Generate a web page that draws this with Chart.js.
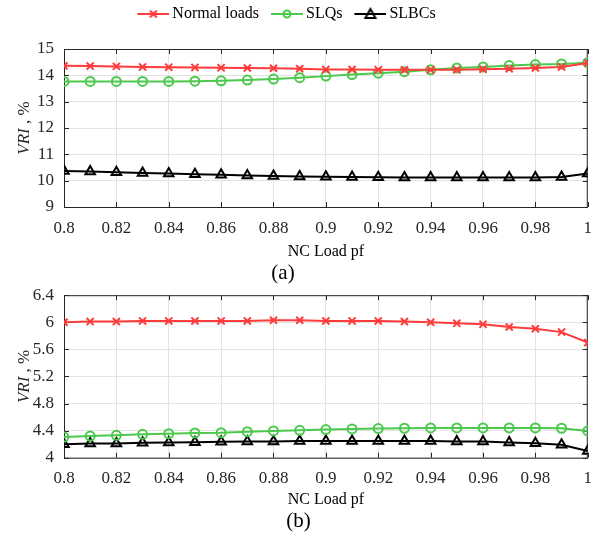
<!DOCTYPE html>
<html>
<head>
<meta charset="utf-8">
<script src="https://cdn.jsdelivr.net/npm/chart.js@4.4.0/dist/chart.umd.min.js"></script>
<style>
body { margin: 0; background: #fff; }
#wrap { position: relative; width: 603px; height: 544px; }
canvas { position: absolute; left: 0; }
</style>
</head>
<body>
<div id="wrap">
  <canvas id="chartA" width="603" height="290" style="top:0"></canvas>
  <canvas id="chartB" width="603" height="269" style="top:275px"></canvas>
</div>
<script>
// NC load power factor
const pf = [0.8, 0.81, 0.82, 0.83, 0.84, 0.85, 0.86, 0.87, 0.88, 0.89, 0.9,
            0.91, 0.92, 0.93, 0.94, 0.95, 0.96, 0.97, 0.98, 0.99, 1];

// (a)
const normalA = [14.36, 14.35, 14.34, 14.32, 14.31, 14.30, 14.29, 14.28, 14.27, 14.25, 14.22,
                 14.22, 14.21, 14.21, 14.21, 14.21, 14.23, 14.25, 14.28, 14.32, 14.47];
const slqA = [13.77, 13.77, 13.77, 13.77, 13.77, 13.78, 13.79, 13.82, 13.86, 13.91, 13.97,
              14.03, 14.08, 14.14, 14.21, 14.28, 14.32, 14.37, 14.41, 14.43, 14.48];
const slbcA = [10.37, 10.35, 10.32, 10.29, 10.27, 10.24, 10.22, 10.20, 10.18, 10.16, 10.15,
               10.14, 10.13, 10.12, 10.12, 10.12, 10.12, 10.12, 10.12, 10.14, 10.27];

// (b)
const normalB = [6.00, 6.01, 6.01, 6.02, 6.02, 6.02, 6.02, 6.02, 6.03, 6.03, 6.02,
                 6.02, 6.02, 6.01, 6.00, 5.985, 5.97, 5.93, 5.905, 5.855, 5.70];
const slqB = [4.305, 4.32, 4.33, 4.345, 4.355, 4.365, 4.37, 4.385, 4.395, 4.405, 4.415,
              4.425, 4.43, 4.435, 4.44, 4.44, 4.44, 4.44, 4.44, 4.435, 4.395];
const slbcB = [4.20, 4.21, 4.21, 4.22, 4.225, 4.23, 4.235, 4.24, 4.24, 4.245, 4.245,
               4.245, 4.245, 4.245, 4.245, 4.24, 4.24, 4.225, 4.215, 4.19, 4.10];

const seriesNames = ['Normal loads', 'SLQs', 'SLBCs'];
const xTicks = [0.8, 0.82, 0.84, 0.86, 0.88, 0.9, 0.92, 0.94, 0.96, 0.98, 1];
const xTickLabels = ['0.8', '0.82', '0.84', '0.86', '0.88', '0.9', '0.92', '0.94', '0.96', '0.98', '1'];
const yTicksA = [9, 10, 11, 12, 13, 14, 15];
const yTickLabelsA = ['9', '10', '11', '12', '13', '14', '15'];
const yTicksB = [4, 4.4, 4.8, 5.2, 5.6, 6, 6.4];
const yTickLabelsB = ['4', '4.4', '4.8', '5.2', '5.6', '6', '6.4'];

const RED = '#ff3b3b';
const GREEN = '#4cc94c';
const BLACK = '#000000';
const FONT = '"Liberation Serif", "Times New Roman", serif';
const TXT = '#262626';

function pts(ys) {
    return pf.map((x, i) => ({ x: x, y: ys[i] }));
}

function makeDatasets(n, q, b) {
    return [
        { label: seriesNames[0], data: pts(n), borderColor: RED, backgroundColor: RED,
          borderWidth: 2, pointStyle: 'crossRot', pointRadius: 5, pointBorderWidth: 2 },
        { label: seriesNames[1], data: pts(q), borderColor: GREEN, backgroundColor: 'rgba(0,0,0,0)',
          borderWidth: 2, pointStyle: 'circle', pointRadius: 4.5, pointBorderWidth: 2 },
        { label: seriesNames[2], data: pts(b), borderColor: BLACK, backgroundColor: 'rgba(0,0,0,0)',
          borderWidth: 2, pointStyle: 'triangle', pointRadius: 5.5, pointBorderWidth: 2 }
    ];
}

// legend sample: line with a marker in the middle (blank strip on the left keeps the item gap)
function legendImage(color, style) {
    const c = document.createElement('canvas');
    c.width = 44; c.height = 14;
    const g = c.getContext('2d');
    g.strokeStyle = color;
    g.lineWidth = 2;
    g.beginPath(); g.moveTo(12, 7); g.lineTo(44, 7); g.stroke();
    const cx = 28, cy = 7;
    g.beginPath();
    if (style === 'x') {
        g.moveTo(cx - 3.5, cy - 3.5); g.lineTo(cx + 3.5, cy + 3.5);
        g.moveTo(cx + 3.5, cy - 3.5); g.lineTo(cx - 3.5, cy + 3.5);
    } else if (style === 'o') {
        g.arc(cx, cy, 3.5, 0, Math.PI * 2);
    } else {
        g.moveTo(cx, cy - 5); g.lineTo(cx + 5, cy + 4); g.lineTo(cx - 5, cy + 4); g.closePath();
    }
    g.stroke();
    return c;
}

const legendImgs = [legendImage(RED, 'x'), legendImage(GREEN, 'o'), legendImage(BLACK, '^')];

// MATLAB-like box with inward ticks, and the y title with italic VRI
const boxPlugin = {
    id: 'box',
    beforeDatasetsDraw(chart) {
        const { ctx, chartArea: a, scales } = chart;
        ctx.save();
        ctx.strokeStyle = TXT;
        ctx.lineWidth = 1;
        ctx.strokeRect(a.left + 0.5, a.top + 0.5, a.right - a.left - 1, a.bottom - a.top);
        ctx.beginPath();
        scales.x.ticks.forEach(t => {
            const px = Math.round(scales.x.getPixelForValue(t.value)) + 0.5;
            ctx.moveTo(px, a.bottom); ctx.lineTo(px, a.bottom - 5);
            ctx.moveTo(px, a.top); ctx.lineTo(px, a.top + 5);
        });
        scales.y.ticks.forEach(t => {
            const py = Math.round(scales.y.getPixelForValue(t.value)) + 0.5;
            ctx.moveTo(a.left, py); ctx.lineTo(a.left + 5, py);
            ctx.moveTo(a.right, py); ctx.lineTo(a.right - 5, py);
        });
        ctx.stroke();
        ctx.restore();
    },
    afterDraw(chart) {
        const { ctx, chartArea: a } = chart;
        ctx.save();
        ctx.translate(25, (a.top + a.bottom) / 2);
        ctx.rotate(-Math.PI / 2);
        ctx.fillStyle = TXT;
        ctx.textBaseline = 'middle';
        const f1 = 'italic 17px ' + FONT, f2 = '17px ' + FONT;
        ctx.font = f1; const w1 = ctx.measureText('VRI').width;
        ctx.font = f2; const w2 = ctx.measureText(' , %').width;
        let x = -(w1 + w2) / 2;
        ctx.font = f1; ctx.textAlign = 'left'; ctx.fillText('VRI', x, 0);
        ctx.font = f2; ctx.fillText(' , %', x + w1, 0);
        ctx.restore();
    }
};

function makeChart(id, datasets, yMin, yMax, yTicks, yLabels, cfg) {
    return new Chart(document.getElementById(id), {
        type: 'line',
        data: { datasets: datasets },
        options: {
            responsive: false,
            animation: false,
            layout: { padding: { left: cfg.padLeft, right: 14, top: cfg.padTop, bottom: 0 } },
            plugins: {
                legend: {
                    display: cfg.legend,
                    position: 'top',
                    labels: {
                        usePointStyle: true,
                        pointStyleWidth: 34,
                        padding: 5,
                        color: '#000',
                        font: { family: FONT, size: 16 },
                        generateLabels: (chart) => chart.data.datasets.map((d, i) => ({
                            text: d.label,
                            pointStyle: legendImgs[i],
                            fillStyle: 'rgba(0,0,0,0)',
                            strokeStyle: 'rgba(0,0,0,0)',
                            lineWidth: 0,
                            fontColor: '#000',
                            datasetIndex: i
                        }))
                    }
                },
                // empty spacer between legend and plot
                subtitle: {
                    display: cfg.legend,
                    position: 'top',
                    weight: 500,
                    text: ' ',
                    font: { size: 1, lineHeight: 1 },
                    padding: { top: 16, bottom: 0 }
                },
                title: {
                    display: true,
                    position: 'bottom',
                    text: cfg.tag,
                    color: '#000',
                    font: { family: FONT, size: 21, weight: 'normal', lineHeight: 1 },
                    padding: { top: 0, bottom: cfg.tagPad }
                },
                tooltip: { enabled: false }
            },
            scales: {
                x: {
                    type: 'linear',
                    min: 0.8, max: 1,
                    afterBuildTicks: (s) => { s.ticks = xTicks.map(v => ({ value: v })); },
                    afterFit: (s) => { s.height = cfg.xHeight; },
                    ticks: {
                        color: TXT,
                        font: { family: FONT, size: 17 },
                        padding: 11,
                        maxRotation: 0,
                        callback: (v, i) => xTickLabels[i]
                    },
                    grid: { color: '#e3e3e3', drawTicks: false },
                    border: { display: false },
                    title: {
                        display: true,
                        text: 'NC Load pf',
                        color: '#000',
                        font: { family: FONT, size: 16, lineHeight: 1 },
                        padding: { top: 0, bottom: cfg.xTitlePad }
                    }
                },
                y: {
                    min: yMin, max: yMax,
                    afterBuildTicks: (s) => { s.ticks = yTicks.map(v => ({ value: v })); },
                    afterFit: (s) => { s.width = 64 - cfg.padLeft; },
                    ticks: {
                        color: TXT,
                        font: { family: FONT, size: 17 },
                        padding: 10,
                        callback: (v, i) => yLabels[i]
                    },
                    grid: { color: '#e3e3e3', drawTicks: false },
                    border: { display: false }
                }
            }
        },
        plugins: [boxPlugin]
    });
}

makeChart('chartA', makeDatasets(normalA, slqA, slbcA), 9, 15, yTicksA, yTickLabelsA,
    { tag: '(a)', legend: true, padLeft: -23, padTop: 1, tagPad: 6.5, xHeight: 55.5, xTitlePad: 2.5 });
makeChart('chartB', makeDatasets(normalB, slqB, slbcB), 4, 6.4, yTicksB, yTickLabelsB,
    { tag: '(b)', legend: false, padLeft: 8, padTop: 13, tagPad: 11.8, xHeight: 53.5, xTitlePad: 3.2 });
</script>
</body>
</html>
